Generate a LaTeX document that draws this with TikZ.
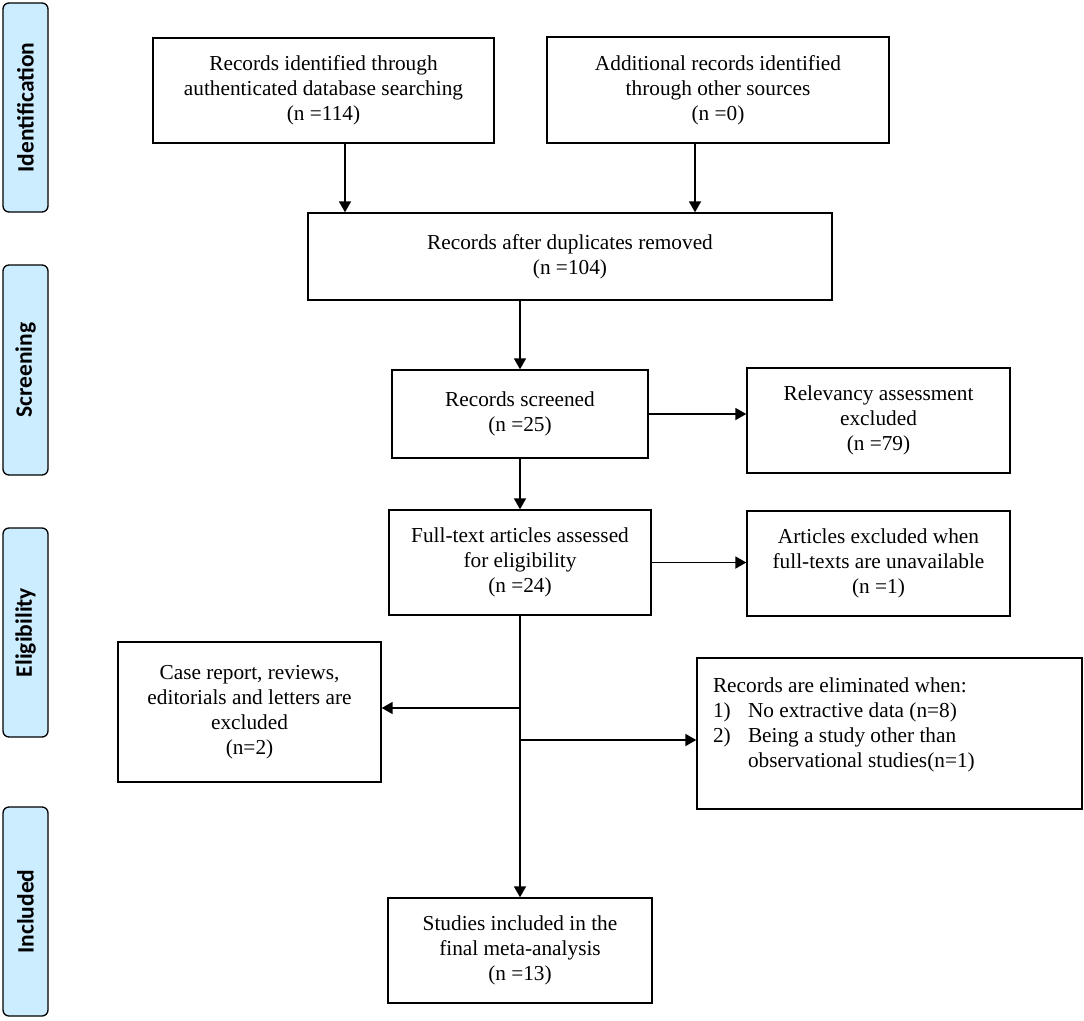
\documentclass[tikz,border=0pt]{standalone}
\usepackage{fontspec}
\setmainfont{Liberation Serif}
\newfontfamily\sidefont{Carlito}
\usetikzlibrary{arrows.meta}
\definecolor{sidefill}{RGB}{204,236,255}
\begin{document}
\begin{tikzpicture}[x=1pt,y=-1pt,
  box/.style={draw, line width=1.4pt, inner sep=0pt, align=center,
    font=\fontsize{21.3}{25}\selectfont},
  side/.style={draw, line width=1.3pt, fill=sidefill, rounded corners=6pt,
    rotate=90, inner sep=0pt, minimum height=45pt,
    font=\sidefont\bfseries\fontsize{23.5}{26}\selectfont},
  arr/.style={line width=1.8pt, -{Triangle[length=11pt,width=12pt]}}]
\useasboundingbox (0,0) rectangle (1084,1020);
% side labels
\node[side, minimum width=209pt] (s1) at (25.5,107.5) {Identification};
\node[side, minimum width=210pt] (s2) at (25.5,370) {Screening};
\node[side, minimum width=209pt] (s3) at (25.5,632.5) {Eligibility};
\node[side, minimum width=209pt] (s4) at (25.5,911.5) {Included};
% boxes
\node[box, minimum width=341pt, minimum height=105pt] (A) at (323.5,90.5)
  {Records identified through\\authenticated database searching\\(n =114)};
\node[box, minimum width=342pt, minimum height=106pt] (B) at (718,90)
  {Additional records identified\\through other sources\\(n =0)};
\node[box, minimum width=524pt, minimum height=87pt] (C) at (570,256.5)
  {Records after duplicates removed\\(n =104)};
\node[box, minimum width=256pt, minimum height=88pt] (D) at (520,414)
  {Records screened\\(n =25)};
\node[box, minimum width=263pt, minimum height=105pt] (F) at (878.5,420.5)
  {Relevancy assessment\\excluded\\(n =79)};
\node[box, minimum width=262pt, minimum height=105pt] (E) at (520,562.5)
  {Full-text articles assessed\\for eligibility\\(n =24)};
\node[box, minimum width=263pt, minimum height=105pt] (G) at (878.5,563.5)
  {Articles excluded when\\full-texts are unavailable\\(n =1)};
\node[box, minimum width=263pt, minimum height=140pt] (H) at (249.5,712)
  {Case report, reviews,\\editorials and letters are\\excluded\\(n=2)};
\node[box, minimum width=385pt, minimum height=151pt, inner xsep=16pt, inner ysep=20pt,
  align=left] (I) at (889.5,733.5)
  {\begin{minipage}[c][111pt][t]{353pt}\fontsize{21.3}{25}\selectfont
   Records are eliminated when:\\
   \makebox[35pt][l]{1)}No extractive data (n=8)\\
   \makebox[35pt][l]{2)}Being a study other than\\
   \hspace*{35pt}observational studies(n=1)
   \end{minipage}};
\node[box, minimum width=264pt, minimum height=105pt] (J) at (520,950.5)
  {Studies included in the\\final meta-analysis\\(n =13)};
% connectors
\coordinate (xa) at (345,0);
\coordinate (xb) at (695,0);
\coordinate (bh) at (520,708);
\coordinate (bi) at (520,740);
\draw[arr] (xa |- A.south) -- (xa |- C.north);
\draw[arr] (xb |- B.south) -- (xb |- C.north);
\draw[arr] (D.north |- C.south) -- (D.north);
\draw[arr] (D.south) -- (E.north);
\draw[arr] (D.east) -- (F.west |- D.east);
\draw[arr] (E.east) -- (G.west |- E.east);
\draw[arr] (E.south) -- (J.north);
\draw[arr] (bh) -- (H.east |- bh);
\draw[arr] (bi) -- (I.west |- bi);
\end{tikzpicture}
\end{document}
